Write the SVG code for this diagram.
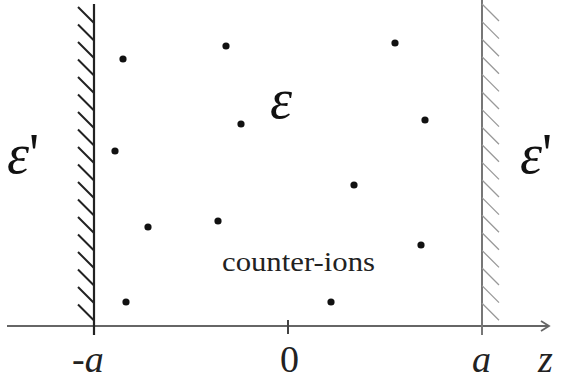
<svg xmlns="http://www.w3.org/2000/svg" width="563" height="380" viewBox="0 0 563 380">
<style>
.hl{stroke:#222;stroke-width:2;fill:none}
.hr{stroke:#999;stroke-width:1.3;fill:none}
.dot{fill:#111}
.serif{font-family:"Liberation Serif","Times New Roman","DejaVu Serif",serif}
.eps{font-style:italic;font-size:56px;fill:#111}
.lab{font-size:38px;fill:#222}
.it{font-style:italic}
</style>
<rect width="563" height="380" fill="#fff"/>
<g id="axis">
<line x1="7" y1="326" x2="549" y2="326" stroke="#666" stroke-width="2"/>
<polyline points="541,321 549,326 541,331" fill="none" stroke="#666" stroke-width="1.8"/>
<line x1="288" y1="320" x2="288" y2="334" stroke="#444" stroke-width="2"/>
</g>
<g id="left-wall">
<line x1="94" y1="4" x2="94" y2="335" stroke="#222" stroke-width="2.2"/>
<path class="hl" d="M78,7l16,16M78,24.5l16,16M78,42l16,16M78,59.5l16,16M78,77l16,16M78,94.5l16,16M78,112l16,16M78,129.5l16,16M78,147l16,16M78,164.5l16,16M78,182l16,16M78,199.5l16,16M78,217l16,16M78,234.5l16,16M78,252l16,16M78,269.5l16,16M78,287l16,16M78,304.5l16,16"/>
</g>
<g id="right-wall">
<line x1="482" y1="0" x2="482" y2="335" stroke="#777" stroke-width="2"/>
<path class="hr" d="M482,4l17,17M482,21.6l17,17M482,39.2l17,17M482,56.8l17,17M482,74.4l17,17M482,92l17,17M482,109.6l17,17M482,127.2l17,17M482,144.8l17,17M482,162.4l17,17M482,180l17,17M482,197.6l17,17M482,215.2l17,17M482,232.8l17,17M482,250.4l17,17M482,268l17,17M482,285.6l17,17M482,303.2l17,17"/>
</g>
<g id="counter-ions">
<circle class="dot" cx="123" cy="59" r="3.6"/>
<circle class="dot" cx="226" cy="46" r="3.6"/>
<circle class="dot" cx="395" cy="43" r="3.6"/>
<circle class="dot" cx="241" cy="124" r="3.6"/>
<circle class="dot" cx="425" cy="120" r="3.6"/>
<circle class="dot" cx="115" cy="151" r="3.6"/>
<circle class="dot" cx="354" cy="185" r="3.6"/>
<circle class="dot" cx="148" cy="227" r="3.6"/>
<circle class="dot" cx="218" cy="221" r="3.6"/>
<circle class="dot" cx="421" cy="245" r="3.6"/>
<circle class="dot" cx="126" cy="302" r="3.6"/>
<circle class="dot" cx="331" cy="302" r="3.6"/>
<text class="serif" x="222" y="271" font-size="28" fill="#222" textLength="153" lengthAdjust="spacingAndGlyphs">counter-ions</text>
</g>
<g id="labels">
<text class="serif eps" x="7" y="173">ε<tspan font-style="normal">'</tspan></text>
<text class="serif eps" x="270" y="118">ε</text>
<text class="serif eps" x="520" y="173">ε<tspan font-style="normal">'</tspan></text>
<text class="serif lab" x="72" y="372">-<tspan class="it">a</tspan></text>
<text class="serif lab" x="280" y="372">0</text>
<text class="serif lab it" x="472" y="372">a</text>
<text class="serif lab it" x="538" y="372">z</text>
</g>
</svg>
